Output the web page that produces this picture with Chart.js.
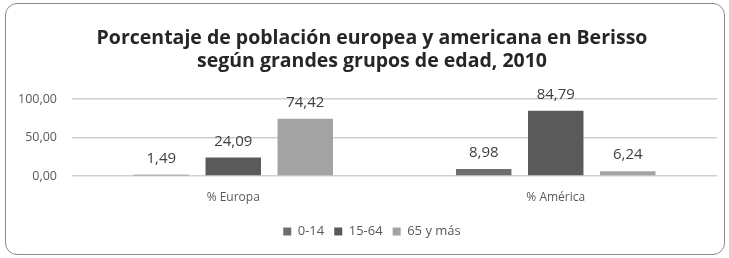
<!DOCTYPE html>
<html>
<head>
<meta charset="utf-8">
<script src="https://cdn.jsdelivr.net/npm/chart.js@4"></script>
<style>
  html, body { margin: 0; padding: 0; background: #fff; }
  #wrap { position: relative; width: 729px; height: 258px; }
  #frame { position: absolute; left: 5px; top: 3px; width: 718px; height: 250px;
           border: 1.5px solid #8c8c8c; border-radius: 12px; }
  canvas { position: absolute; left: 0; top: 0; }
</style>
</head>
<body>
<div id="wrap">
  <div id="frame"></div>
  <canvas id="c" width="729" height="258"></canvas>
</div>
<script>
// categorias y series
const categorias = ['% Europa', '% América'];
const grupos = ['0-14', '15-64', '65 y más'];
const v0_14 = [1.49, 8.98];
const v15_64 = [24.09, 84.79];
const v65 = [74.42, 6.24];
const colores = ['#6e6e6e', '#5a5a5a', '#a3a3a3'];

const fmt = (v) => v.toFixed(2).replace('.', ',');

// etiquetas arriba de cada barra
const etiquetas = {
    id: 'etiquetas',
    afterDatasetsDraw(chart) {
        const ctx = chart.ctx;
        ctx.save();
        ctx.font = '15px "Open Sans"';
        ctx.fillStyle = '#404040';
        ctx.textAlign = 'center';
        ctx.textBaseline = 'middle';
        chart.data.datasets.forEach((ds, i) => {
            chart.getDatasetMeta(i).data.forEach((bar, j) => {
                ctx.fillText(fmt(ds.data[j]), bar.x, bar.y - 16);
            });
        });
        ctx.restore();
    }
};

new Chart(document.getElementById('c'), {
    type: 'bar',
    data: {
        labels: categorias,
        datasets: [
            { label: grupos[0], data: v0_14, backgroundColor: colores[0] },
            { label: grupos[1], data: v15_64, backgroundColor: colores[1] },
            { label: grupos[2], data: v65, backgroundColor: colores[2] }
        ]
    },
    options: {
        responsive: false,
        animation: false,
        categoryPercentage: 0.67,
        barPercentage: 0.77,
        layout: { padding: { left: 17, right: 2, top: 0, bottom: 10 } },
        plugins: {
            title: {
                display: true,
                text: ['Porcentaje de población europea y americana en Berisso', 'según grandes grupos de edad, 2010'],
                font: { family: 'Open Sans', size: 19.5, weight: 'bold', lineHeight: '23px' },
                color: '#262626',
                padding: { top: 27, bottom: 26 }
            },
            legend: {
                position: 'bottom',
                labels: {
                    boxWidth: 8, boxHeight: 8, padding: 10,
                    font: { family: 'Open Sans', size: 13 },
                    color: '#595959'
                }
            },
            tooltip: { enabled: false }
        },
        scales: {
            x: {
                grid: { display: false },
                border: { display: false },
                ticks: { font: { family: 'Open Sans', size: 12 }, color: '#595959', padding: 6 },
                afterFit: (s) => { s.height = 39; }
            },
            y: {
                min: 0, max: 100,
                ticks: {
                    stepSize: 50,
                    padding: 15,
                    font: { family: 'Open Sans', size: 12.5 },
                    color: '#595959',
                    callback: (v) => fmt(v)
                },
                grid: { color: '#cfcfcf', lineWidth: 1.5, drawTicks: false },
                border: { display: false },
                afterFit: (s) => { s.width = 55; }
            },
            // eje vacio a la derecha, solo para reservar margen
            yDer: {
                position: 'right',
                ticks: { display: false },
                grid: { display: false },
                border: { display: false },
                afterFit: (s) => { s.width = 10; }
            }
        }
    },
    plugins: [etiquetas]
});
</script>
</body>
</html>
